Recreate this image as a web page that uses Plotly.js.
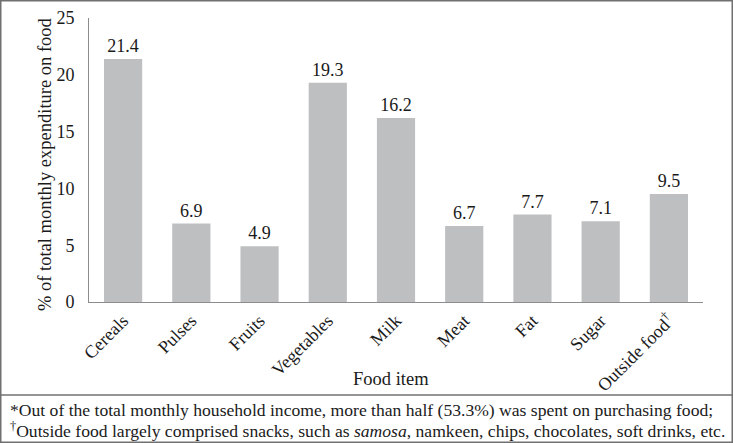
<!DOCTYPE html>
<html>
<head>
<meta charset="utf-8">
<script src="https://cdn.plot.ly/plotly-3.0.1.min.js"></script>
<style>
  html, body { margin: 0; padding: 0; background: #fff; }
  #chart { width: 733px; height: 443px; }
</style>
</head>
<body>
<div id="chart"></div>
<script>
// Data
const categories = ["Cereals", "Pulses", "Fruits", "Vegetables", "Milk", "Meat", "Fat", "Sugar", "Outside food<sup>†</sup>"];
const values = [21.4, 6.9, 4.9, 19.3, 16.2, 6.7, 7.7, 7.1, 9.5];
const valueLabels = ["21.4", "6.9", "4.9", "19.3", "16.2", "6.7", "7.7", "7.1", "9.5"];
const yTickValues = [0, 5, 10, 15, 20, 25];
const yTitle = "% of total monthly expenditure on food";
const xTitle = "Food item";
const footnote1 = "*Out of the total monthly household income, more than half (53.3%) was spent on purchasing food;";
const footnote2 = "<sup>†</sup>Outside food largely comprised snacks, such as <i>samosa</i>, namkeen, chips, chocolates, soft drinks, etc.";

const W = 733, H = 443;
const L = 89, R = 30, T = 18, B = 141;
const pw = W - L - R, ph = H - T - B;
const px = x => (x - L) / pw;
const py = y => (H - B - y) / ph;

const FONT = "Liberation Serif, Times New Roman, serif";
const INK = "#1a1a1a";

const trace = {
  type: "bar",
  x: categories,
  y: values,
  text: valueLabels,
  textposition: "outside",
  cliponaxis: false,
  textfont: { family: FONT, size: 18, color: INK },
  marker: { color: "#bebfc1" },
  hoverinfo: "skip"
};

const layout = {
  width: W, height: H,
  margin: { l: L, r: R, t: T, b: B, pad: 0 },
  paper_bgcolor: "#ffffff",
  plot_bgcolor: "#ffffff",
  showlegend: false,
  bargap: 0.44,
  font: { family: FONT, size: 18, color: INK },
  xaxis: {
    type: "category",
    tickangle: -45,
    showline: true,
    linecolor: "#8c8c8c",
    linewidth: 1,
    ticks: "",
    showgrid: false,
    zeroline: false,
    tickfont: { family: FONT, size: 18, color: INK },
    automargin: false
  },
  yaxis: {
    range: [0, 25],
    tickvals: yTickValues,
    ticktext: yTickValues.map(String),
    showline: true,
    linecolor: "#8c8c8c",
    linewidth: 1,
    ticks: "",
    ticklabelstandoff: 10,
    showgrid: false,
    zeroline: false,
    tickfont: { family: FONT, size: 18, color: INK },
    automargin: false
  },
  shapes: [
    { type: "rect", xref: "paper", yref: "paper",
      x0: px(0.75), x1: px(732.25), y0: py(442.25), y1: py(0.75),
      line: { color: "#707070", width: 1.5 }, fillcolor: "rgba(0,0,0,0)" },
    { type: "line", xref: "paper", yref: "paper",
      x0: px(0.75), x1: px(732.25), y0: py(395), y1: py(395),
      line: { color: "#707070", width: 1.5 } }
  ],
  annotations: [
    { xref: "paper", yref: "paper", x: px(45), y: py(164), xanchor: "center", yanchor: "middle",
      textangle: -90, text: yTitle, showarrow: false, font: { family: FONT, size: 18.5, color: INK } },
    { xref: "paper", yref: "paper", x: px(391), y: py(379), xanchor: "center", yanchor: "middle",
      text: xTitle, showarrow: false, font: { family: FONT, size: 18.5, color: INK } },
    { xref: "paper", yref: "paper", x: px(8), y: py(410), xanchor: "left", yanchor: "middle",
      text: footnote1, showarrow: false, font: { family: FONT, size: 17.6, color: INK } },
    { xref: "paper", yref: "paper", x: px(8), y: py(430), xanchor: "left", yanchor: "middle",
      text: footnote2, showarrow: false, font: { family: FONT, size: 17.6, color: INK } }
  ]
};

Plotly.newPlot("chart", [trace], layout, { staticPlot: true, displayModeBar: false });
</script>
</body>
</html>
